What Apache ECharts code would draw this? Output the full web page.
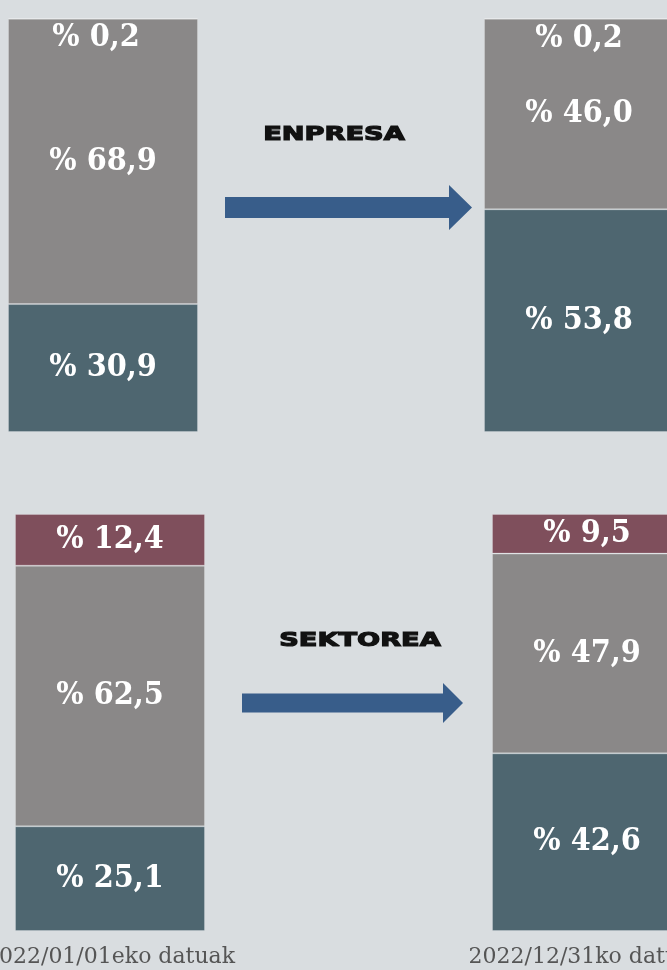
<!DOCTYPE html>
<html>
<head>
<meta charset="utf-8">
<script src="https://cdn.jsdelivr.net/npm/echarts@6/dist/echarts.min.js"></script>
<style>
html,body{margin:0;padding:0;background:#d9dde0;}
#chart{width:667px;height:970px;}
</style>
</head>
<body>
<div id="chart"></div>
<script>
// ---- data ----
const dateLabels = ['2022/01/01eko datuak', '2022/12/31ko datuak'];
const titleTop = 'ENPRESA';
const titleBottom = 'SEKTOREA';
const enpresaDark = [30.9, 53.8];
const enpresaGrey = [68.9, 46.0];
const enpresaRed = [0.2, 0.2];
const sektoreaDark = [25.1, 42.6];
const sektoreaGrey = [62.5, 47.9];
const sektoreaRed = [12.4, 9.5];

// ---- styles ----
const C_DARK = '#4e6670';
const C_GREY = '#8a8888';
const C_RED = '#7f4f5c';
const C_ARROW = '#385d8a';
const labelFont = '"DejaVu Serif Condensed", "DejaVu Serif", serif';

function fmt(p) { return '% ' + Number(p.value).toFixed(1).replace('.', ','); }

function barSeries(name, data, color, gridIdx, labelPos, dist) {
  return {
    type: 'bar', name: name, data: data, stack: 's' + gridIdx,
    xAxisIndex: gridIdx, yAxisIndex: gridIdx,
    barWidth: 190, clip: false,
    itemStyle: { color: color, borderColor: 'rgba(255,255,255,0.22)', borderWidth: 1 },
    label: {
      show: true, position: labelPos, distance: dist || 5, formatter: fmt,
      color: '#ffffff', fontFamily: labelFont, fontWeight: 'bold', fontSize: 32
    }
  };
}

const chart = echarts.init(document.getElementById('chart'), null, { renderer: 'canvas' });

function xAx(gridIdx, showLabels) {
  return {
    type: 'category', gridIndex: gridIdx, data: dateLabels, boundaryGap: false,
    axisLine: { show: false }, axisTick: { show: false }, splitLine: { show: false },
    axisLabel: {
      show: showLabels, interval: 0, margin: 15, color: '#555555',
      hideOverlap: false,
      fontFamily: '"DejaVu Serif", serif', fontSize: 22
    }
  };
}
function yAx(gridIdx) {
  return { type: 'value', gridIndex: gridIdx, min: 0, max: 100, show: false, splitLine: { show: false } };
}

function arrow(x0, x1, xh, yc, shaftH, headH) {
  return {
    type: 'polygon', silent: true, z: 100,
    shape: { points: [
      [x0, yc - shaftH / 2], [xh, yc - shaftH / 2], [xh, yc - headH / 2], [x1, yc],
      [xh, yc + headH / 2], [xh, yc + shaftH / 2], [x0, yc + shaftH / 2]
    ] },
    style: { fill: C_ARROW }
  };
}
function title(text, cx, cy) {
  return {
    type: 'text', x: cx, y: cy, scaleX: 1.36, silent: true, z: 100,
    style: {
      text: text, fill: '#111111', align: 'center', verticalAlign: 'middle',
      stroke: '#111111', lineWidth: 1.2,
      font: '900 20px "DejaVu Sans", sans-serif'
    }
  };
}

// the first small top label sits slightly left of the bar centre in the original
const enpresaRedItems = enpresaRed.map((v, i) => i === 0 ? { value: v, label: { offset: [-7, 1] } } : { value: v, label: { offset: [0, 2] } });

chart.setOption({
  backgroundColor: '#d9dde0',
  animation: false,
  grid: [
    { left: 103, right: 88, top: 18, height: 414, containLabel: false, outerBoundsMode: 'none' },
    { left: 110, right: 80, top: 514, height: 417, containLabel: false, outerBoundsMode: 'none' }
  ],
  xAxis: [xAx(0, false), xAx(1, true)],
  yAxis: [yAx(0), yAx(1)],
  series: [
    barSeries('dark', enpresaDark, C_DARK, 0, 'inside'),
    barSeries('grey', enpresaGrey, C_GREY, 0, 'inside'),
    barSeries('red', enpresaRedItems, C_RED, 0, 'bottom', 2),
    barSeries('dark', sektoreaDark, C_DARK, 1, 'inside'),
    barSeries('grey', sektoreaGrey, C_GREY, 1, 'inside'),
    barSeries('red', sektoreaRed, C_RED, 1, 'inside')
  ],
  graphic: [
    title(titleTop, 334, 135),
    arrow(225, 472, 449, 207.5, 21, 45),
    title(titleBottom, 360, 641),
    arrow(242, 463, 443, 703, 19, 40)
  ]
});
</script>
</body>
</html>
